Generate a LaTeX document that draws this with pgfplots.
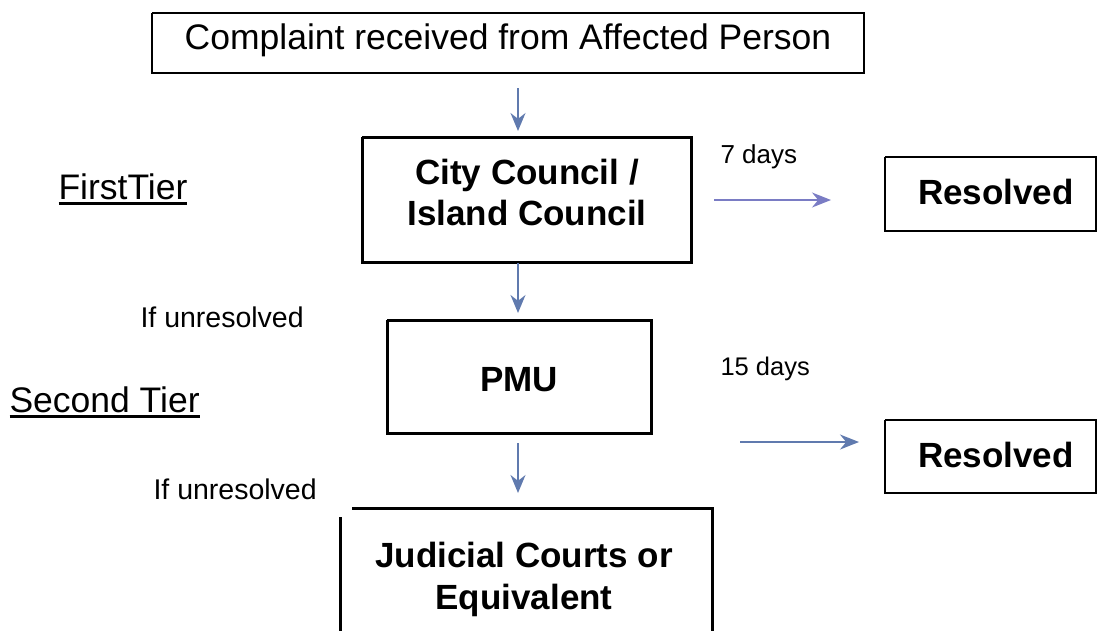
\documentclass[border=0pt]{standalone}
\usepackage{pgfplots}
\pgfplotsset{compat=1.18}
\usepackage{fontspec}
\setmainfont{Liberation Sans}
\usetikzlibrary{arrows.meta}
\definecolor{arrblue}{RGB}{96,122,174}
\definecolor{arrpurp}{RGB}{122,124,196}
\newsavebox\ulbox
\newlength\ulwd
\newcommand\ul[1]{\sbox\ulbox{#1}\setlength\ulwd{\wd\ulbox}\rlap{\rule[-5.5pt]{\ulwd}{2.6pt}}\usebox\ulbox}
\begin{document}
\begin{tikzpicture}
\begin{axis}[
  scale only axis, width=1099pt, height=630pt,
  xmin=0, xmax=1099, ymin=0, ymax=630, y dir=reverse,
  hide axis, clip=true,
]
% boxes
\addplot[black, line width=1.5pt] coordinates {(152,13) (864,13) (864,73) (152,73) (152,13)};
\addplot[black, line width=3pt] coordinates {(362,137) (691,137) (691,262) (362,262) (362,137)};
\addplot[black, line width=2.5pt] coordinates {(885,157) (1096,157) (1096,231) (885,231) (885,157)};
\addplot[black, line width=3pt] coordinates {(387,320) (651,320) (651,433) (387,433) (387,320)};
\addplot[black, line width=2.5pt] coordinates {(885,420) (1096,420) (1096,493) (885,493) (885,420)};
\addplot[black, line width=3pt] coordinates {(352,508) (712,508) (712,640)};
\addplot[black, line width=3pt] coordinates {(340,517) (340,640)};
% arrows
\addplot[arrblue, line width=1.5pt, -{Stealth[length=18pt,width=15pt]}] coordinates {(518,88) (518,131)};
\addplot[arrblue, line width=1.5pt, -{Stealth[length=18pt,width=15pt]}] coordinates {(518,263) (518,313)};
\addplot[arrblue, line width=1.5pt, -{Stealth[length=18pt,width=15pt]}] coordinates {(518,443) (518,493)};
\addplot[arrpurp, line width=1.5pt, -{Stealth[length=19pt,width=15pt]}] coordinates {(714,200) (831,200)};
\addplot[arrblue, line width=1.5pt, -{Stealth[length=19pt,width=15pt]}] coordinates {(740,442) (859,442)};
% texts
\node[font=\fontsize{35.5}{40}\selectfont] at (axis cs:508,40) {Complaint received from Affected Person};
\node[font=\fontsize{35}{41}\selectfont\bfseries, align=center] at (axis cs:527,192) {City Council /\\Island Council};
\node[font=\fontsize{35}{40}\selectfont\bfseries] at (axis cs:996,192) {Resolved};
\node[font=\fontsize{35}{40}\selectfont\bfseries] at (axis cs:519,380) {PMU};
\node[font=\fontsize{35}{40}\selectfont\bfseries] at (axis cs:996,455) {Resolved};
\node[font=\fontsize{35}{42}\selectfont\bfseries, align=center] at (axis cs:524,579) {Judicial Courts or\\Equivalent};
\node[font=\fontsize{26}{30}\selectfont, anchor=west] at (axis cs:717,157) {7 days};
\node[font=\fontsize{25.5}{30}\selectfont, anchor=west] at (axis cs:717,369) {15 days};
\node[font=\fontsize{28.5}{30}\selectfont, anchor=west] at (axis cs:137,317) {If unresolved};
\node[font=\fontsize{28.5}{30}\selectfont, anchor=west] at (axis cs:150,489) {If unresolved};
\node[font=\fontsize{35.5}{40}\selectfont, anchor=west] at (axis cs:55,189) {\ul{FirstTier}};
\node[font=\fontsize{35.5}{40}\selectfont, anchor=west] at (axis cs:6,402) {\ul{Second Tier}};
\end{axis}
\pgfresetboundingbox
\useasboundingbox (current axis.south west) rectangle (current axis.north east);
\end{tikzpicture}
\end{document}
